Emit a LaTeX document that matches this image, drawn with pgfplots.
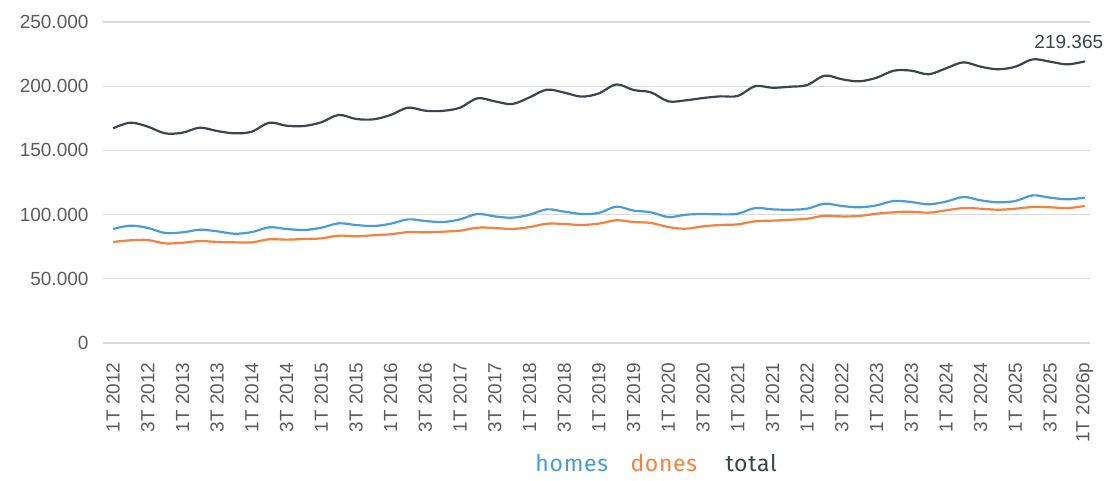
\documentclass[border=0pt]{standalone}
\usepackage{pgfplots}
\usepackage{pgfplotstable}
\pgfplotsset{compat=1.18}
\usepackage{fontspec}
\setmainfont{Liberation Sans}
\newfontfamily\legfont[LetterSpace=3]{Fira Sans}
\definecolor{homesc}{HTML}{4A9BD9}
\definecolor{donesc}{HTML}{F5813E}
\definecolor{totalc}{HTML}{384848}
\definecolor{tickc}{HTML}{5C5C5C}
\definecolor{gridc}{HTML}{D9D9D9}

\pgfplotstableread{
i homes dones total
0 88.8 78.7 167.2
1 91.4 80.0 171.6
2 89.6 80.2 168.5
3 85.7 77.6 163.3
4 86.2 78.1 163.8
5 88.2 79.4 167.7
6 87.0 78.7 165.1
7 85.1 78.4 163.3
8 86.4 78.4 164.6
9 90.1 80.8 171.6
10 88.8 80.5 169.2
11 88.0 81.0 169.0
12 89.8 81.5 171.9
13 93.2 83.6 177.6
14 91.9 83.1 174.5
15 91.1 83.9 174.2
16 92.9 84.7 177.6
17 96.3 86.4 183.3
18 95.0 86.2 180.9
19 94.2 86.7 180.8
20 96.3 87.5 183.3
21 100.5 89.8 190.6
22 98.6 89.6 188.2
23 97.6 88.8 186.1
24 99.9 90.3 191.3
25 104.1 92.9 197.3
26 102.3 92.7 195.0
27 100.5 91.9 191.9
28 101.3 93.0 194.4
29 106.2 95.6 201.4
30 103.1 94.2 197.0
31 101.8 93.5 195.2
32 98.1 90.3 188.2
33 99.9 89.0 189.0
34 100.5 90.9 190.8
35 100.2 91.9 192.1
36 100.7 92.4 192.4
37 105.1 94.8 200.0
38 104.1 95.3 198.8
39 103.8 96.0 199.6
40 104.6 96.8 200.9
41 108.5 99.1 208.2
42 106.7 98.6 205.4
43 105.7 98.9 203.8
44 107.2 100.7 206.6
45 110.6 101.8 212.1
46 109.8 102.3 212.1
47 108.0 101.5 209.3
48 110.1 103.3 213.9
49 113.7 105.1 218.6
50 111.1 104.6 215.2
51 109.6 103.8 213.2
52 110.6 104.6 215.2
53 115.0 105.9 220.9
54 113.2 105.7 219.1
55 111.9 105.1 217.0
56 113.2 106.7 219.365
}\data

\begin{document}
\begin{tikzpicture}[x=1pt,y=1pt]
\path[use as bounding box] (-103,-137) rectangle (1005,343);
\begin{axis}[
  at={(0,0)}, anchor=south west,
  scale only axis, width=987pt, height=321pt,
  xmin=-0.58, xmax=56.3,
  ymin=0, ymax=250,
  axis line style={draw=none},
  tick style={draw=none},
  ymajorgrids, grid style={gridc, line width=1.3pt},
  ytick={0,50,100,150,200,250},
  yticklabels={0,50.000,100.000,150.000,200.000,250.000},
  yticklabel style={font=\fontsize{19}{21}\selectfont, text=tickc, xshift=-11pt},
  xtick={0,2,...,56},
  xticklabels={1T 2012,3T 2012,1T 2013,3T 2013,1T 2014,3T 2014,1T 2015,3T 2015,1T 2016,3T 2016,1T 2017,3T 2017,1T 2018,3T 2018,1T 2019,3T 2019,1T 2020,3T 2020,1T 2021,3T 2021,1T 2022,3T 2022,1T 2023,3T 2023,1T 2024,3T 2024,1T 2025,3T 2025,1T 2026p},
  xticklabel style={font=\fontsize{19}{21}\selectfont, text=tickc, rotate=90, anchor=east, xshift=-16pt},
  clip=false,
]
\addplot[homesc, line width=2.2pt, smooth, tension=0.55] table[x=i,y=homes]{\data};
\addplot[donesc, line width=2.2pt, smooth, tension=0.55] table[x=i,y=dones]{\data};
\addplot[totalc, line width=2.2pt, smooth, tension=0.55] table[x=i,y=total]{\data};
\node[anchor=south, font=\fontsize{19}{21}\selectfont, text=totalc, xshift=-16pt, yshift=9pt] at (axis cs:56,219.365) {219.365};
\node[anchor=base west, font=\legfont\fontsize{23}{25}\selectfont, text=homesc] at (rel axis cs:0.4346,-0.3988) {homes};
\node[anchor=base west, font=\legfont\fontsize{23}{25}\selectfont, text=donesc] at (rel axis cs:0.5309,-0.3988) {dones};
\node[anchor=base west, font=\legfont\fontsize{23}{25}\selectfont, text=totalc] at (rel axis cs:0.6272,-0.3988) {total};
\end{axis}
\end{tikzpicture}
\end{document}
